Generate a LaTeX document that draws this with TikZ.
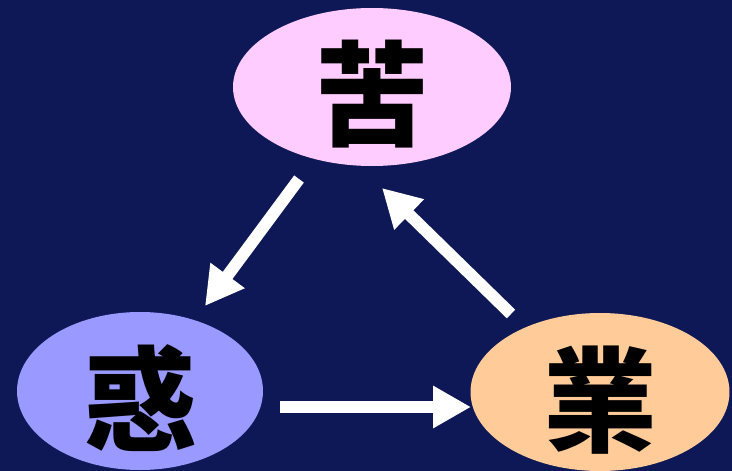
\documentclass[tikz,border=0pt]{standalone}
\usepackage{fontspec}
\newfontfamily\cjk{Noto Sans CJK TC}
\usetikzlibrary{arrows.meta,shapes.geometric}
\definecolor{bgnavy}{RGB}{14,24,86}
\definecolor{kupink}{RGB}{255,204,255}
\definecolor{wakublue}{RGB}{153,153,255}
\definecolor{gouorange}{RGB}{255,204,153}
\newcommand{\stagetext}[1]{\smash{\raisebox{-51pt}{#1}}}
\tikzset{
  stage/.style={ellipse, minimum width=#1, minimum height=158pt, inner sep=0pt, text=black, font=\cjk\bfseries\fontsize{114}{114}\selectfont},
  flow/.style={draw=white, line width=12pt, -{Triangle[width=40pt,length=38pt]}}
}
\begin{document}
\begin{tikzpicture}[x=1pt,y=-1pt]
\fill[bgnavy] (0,0) rectangle (732,471);
\useasboundingbox (0,0) rectangle (732,471);
\node[stage=278pt, fill=kupink] (ku) at (372,87) {\stagetext{苦}};
\node[stage=246pt, fill=wakublue] (waku) at (140,391) {\stagetext{惑}};
\node[stage=259pt, fill=gouorange] (gou) at (600,392) {\stagetext{業}};
\coordinate (a1s) at (299,179);
\coordinate (a1e) at (205,306);
\coordinate (a2s) at (511,314);
\coordinate (a2e) at (382,188);
\coordinate (a3s) at (280,407);
\coordinate (a3e) at (471,407);
\draw[flow] (a1s) -- (a1e);
\draw[flow] (a2s) -- (a2e);
\draw[flow] (a3s) -- (a3e);
\end{tikzpicture}
\end{document}
